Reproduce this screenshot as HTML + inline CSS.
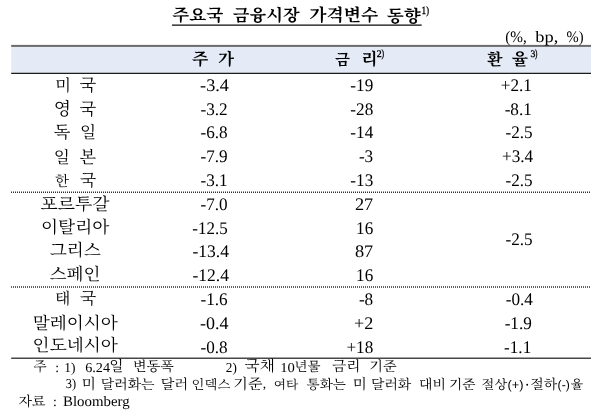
<!DOCTYPE html>
<html lang="ko">
<head>
<meta charset="utf-8">
<title>주요국 금융시장 가격변수 동향</title>
<style>
html,body{margin:0;padding:0;background:#fff}
body{width:600px;height:417px;position:relative;overflow:hidden;font-family:"Liberation Serif",serif;color:#000}
svg{position:absolute;left:0;top:0;will-change:transform}
svg text{font-family:"Liberation Serif",serif;fill:#000;text-rendering:geometricPrecision}
svg text.k{font-family:"Liberation Serif","Noto Serif CJK SC","Noto Sans CJK KR","NanumGothic",serif}
svg text.kb{font-family:"Liberation Serif","Noto Serif CJK SC","Noto Sans CJK KR","NanumGothic",serif;font-weight:bold}
</style>
</head>
<body>
<svg width="600" height="417" viewBox="0 0 600 417">
<rect x="11.2" y="46" width="579.8" height="27" fill="#e4ebf6"/>
<rect x="11.2" y="44.9" width="579.8" height="2" fill="#6b6b6b"/>
<rect x="11.2" y="72.75" width="579.8" height="1.25" fill="#1c1c1c"/>
<rect x="172" y="24.4" width="249.7" height="1.5" fill="#333"/>
<line x1="11" y1="192.3" x2="591" y2="192.3" stroke="#2e2e2e" stroke-width="1.4" stroke-dasharray="1 1"/>
<line x1="11" y1="287" x2="591" y2="287" stroke="#2e2e2e" stroke-width="1.4" stroke-dasharray="1 1"/>
<rect x="11.2" y="357.55" width="579.8" height="1.35" fill="#333"/>
<g fill="#000">
<text class="kb" x="172.2" y="20.9" font-size="17" textLength="51" lengthAdjust="spacingAndGlyphs">주요국</text>
<text class="kb" x="232.8" y="21.4" font-size="16.7" textLength="66.9" lengthAdjust="spacingAndGlyphs">금융시장</text>
<text class="kb" x="309.3" y="21.2" font-size="17.2" textLength="69" lengthAdjust="spacingAndGlyphs">가격변수</text>
<text class="kb" x="386.8" y="21.6" font-size="17" textLength="34" lengthAdjust="spacingAndGlyphs">동향</text>
<text class="kb" x="192" y="64.6" font-size="17">주</text>
<text class="kb" x="218.1" y="64.7" font-size="16.6">가</text>
<text class="kb" x="334.9" y="64.9" font-size="15.5">금</text>
<text class="kb" x="361.2" y="64.8" font-size="16.8">리</text>
<text class="kb" x="486.9" y="64.8" font-size="16.1">환</text>
<text class="kb" x="511.7" y="65.3" font-size="16.9">율</text>
<text class="k" x="55.2" y="90.9" font-size="16.3">미</text>
<text class="k" x="79.5" y="90.9" font-size="17.2">국</text>
<text class="k" x="53.8" y="114.9" font-size="17.9">영</text>
<text class="k" x="79.5" y="114.9" font-size="17.2">국</text>
<text class="k" x="53.8" y="138.3" font-size="17.1">독</text>
<text class="k" x="80.1" y="138.3" font-size="16.7">일</text>
<text class="k" x="53.8" y="162.5" font-size="16.7">일</text>
<text class="k" x="79.5" y="162.5" font-size="17.1">본</text>
<text class="k" x="54.9" y="185.6" font-size="14.5">한</text>
<text class="k" x="80" y="185.6" font-size="16.7">국</text>
<text class="k" x="40.6" y="209.6" font-size="17.2" textLength="68.8" lengthAdjust="spacingAndGlyphs">포르투갈</text>
<text class="k" x="41" y="233.3" font-size="17.1" textLength="68.3" lengthAdjust="spacingAndGlyphs">이탈리아</text>
<text class="k" x="49.7" y="256.3" font-size="17" textLength="51.1" lengthAdjust="spacingAndGlyphs">그리스</text>
<text class="k" x="49.6" y="280.2" font-size="17" textLength="51" lengthAdjust="spacingAndGlyphs">스페인</text>
<text class="k" x="55.1" y="304.2" font-size="15.9">태</text>
<text class="k" x="80" y="304.2" font-size="16.7">국</text>
<text class="k" x="32.8" y="328.5" font-size="17" textLength="85.1" lengthAdjust="spacingAndGlyphs">말레이시아</text>
<text class="k" x="32.6" y="351.3" font-size="17" textLength="85.2" lengthAdjust="spacingAndGlyphs">인도네시아</text>
<text class="k" x="33.5" y="371.3" font-size="13.6">주</text>
<text class="k" x="109.3" y="371.3" font-size="14.7">일</text>
<text class="k" x="133.1" y="371.3" font-size="13.6" textLength="40.7" lengthAdjust="spacingAndGlyphs">변동폭</text>
<text class="k" x="244.6" y="371.3" font-size="15.1" textLength="30.3" lengthAdjust="spacingAndGlyphs">국채</text>
<text class="k" x="294.4" y="371.3" font-size="13" textLength="26" lengthAdjust="spacingAndGlyphs">년물</text>
<text class="k" x="332" y="371.3" font-size="14.2" textLength="28.4" lengthAdjust="spacingAndGlyphs">금리</text>
<text class="k" x="369.2" y="371.3" font-size="13.7" textLength="27.4" lengthAdjust="spacingAndGlyphs">기준</text>
<text class="k" x="81.7" y="389" font-size="14.6">미</text>
<text class="k" x="100.7" y="389" font-size="13.5" textLength="53.9" lengthAdjust="spacingAndGlyphs">달러화는</text>
<text class="k" x="160.7" y="389" font-size="13.7" textLength="27.4" lengthAdjust="spacingAndGlyphs">달러</text>
<text class="k" x="191.6" y="389" font-size="12.9" textLength="38.7" lengthAdjust="spacingAndGlyphs">인덱스</text>
<text class="k" x="233.3" y="389" font-size="14.6" textLength="29.2" lengthAdjust="spacingAndGlyphs">기준</text>
<text class="k" x="273.8" y="389" font-size="12.2" textLength="24.5" lengthAdjust="spacingAndGlyphs">여타</text>
<text class="k" x="306.6" y="389" font-size="13.1" textLength="39.4" lengthAdjust="spacingAndGlyphs">통화는</text>
<text class="k" x="352.8" y="389" font-size="14.5">미</text>
<text class="k" x="371" y="389" font-size="13.4" textLength="40.3" lengthAdjust="spacingAndGlyphs">달러화</text>
<text class="k" x="419" y="389" font-size="13.4" textLength="26.9" lengthAdjust="spacingAndGlyphs">대비</text>
<text class="k" x="449.1" y="389" font-size="13.3" textLength="26.5" lengthAdjust="spacingAndGlyphs">기준</text>
<text class="k" x="481.6" y="389" font-size="12.8" textLength="25.6" lengthAdjust="spacingAndGlyphs">절상</text>
<text class="k" x="530.3" y="389" font-size="13.5" textLength="27" lengthAdjust="spacingAndGlyphs">절하</text>
<text class="k" x="570.7" y="389" font-size="12.8">율</text>
<text class="k" x="18.6" y="405.6" font-size="13.5" textLength="27" lengthAdjust="spacingAndGlyphs">자료</text>
</g>
<text x="421.6" y="14" font-size="11" textLength="4.6" lengthAdjust="spacingAndGlyphs" stroke="#000" stroke-width="0.35">1</text>
<text x="426.2" y="14" font-size="11" textLength="2.8" lengthAdjust="spacingAndGlyphs" stroke="#000" stroke-width="0.35">)</text>
<text x="505.2" y="41.5" font-size="16" textLength="21.6" lengthAdjust="spacingAndGlyphs">(%,</text>
<text x="535.3" y="41.5" font-size="16" textLength="23" lengthAdjust="spacingAndGlyphs">bp,</text>
<text x="566.5" y="41.5" font-size="16" textLength="17" lengthAdjust="spacingAndGlyphs">%)</text>
<text x="376.8" y="57.2" font-size="10" textLength="4.9" lengthAdjust="spacingAndGlyphs" stroke="#000" stroke-width="0.35">2</text>
<text x="381.5" y="57.2" font-size="11" textLength="2.6" lengthAdjust="spacingAndGlyphs" stroke="#000" stroke-width="0.35">)</text>
<text x="530.5" y="57.2" font-size="10" textLength="4.9" lengthAdjust="spacingAndGlyphs" stroke="#000" stroke-width="0.35">3</text>
<text x="535.1" y="57.2" font-size="11" textLength="2.4" lengthAdjust="spacingAndGlyphs" stroke="#000" stroke-width="0.35">)</text>
<text x="228.919" y="91" font-size="17.7" text-anchor="end" textLength="28.828" lengthAdjust="spacingAndGlyphs">-3.4</text>
<text x="227.619" y="115" font-size="17.7" text-anchor="end" textLength="27.179" lengthAdjust="spacingAndGlyphs">-3.2</text>
<text x="227.619" y="138" font-size="17.7" text-anchor="end" textLength="27.179" lengthAdjust="spacingAndGlyphs">-6.8</text>
<text x="227.619" y="162" font-size="17.7" text-anchor="end" textLength="27.179" lengthAdjust="spacingAndGlyphs">-7.9</text>
<text x="227.619" y="186" font-size="17.7" text-anchor="end" textLength="27.179" lengthAdjust="spacingAndGlyphs">-3.1</text>
<text x="227.619" y="210" font-size="17.7" text-anchor="end" textLength="27.179" lengthAdjust="spacingAndGlyphs">-7.0</text>
<text x="227.619" y="234" font-size="17.7" text-anchor="end" textLength="35.328" lengthAdjust="spacingAndGlyphs">-12.5</text>
<text x="228.919" y="257" font-size="17.7" text-anchor="end" textLength="36.528" lengthAdjust="spacingAndGlyphs">-13.4</text>
<text x="228.919" y="281" font-size="17.7" text-anchor="end" textLength="36.528" lengthAdjust="spacingAndGlyphs">-12.4</text>
<text x="227.619" y="305" font-size="17.7" text-anchor="end" textLength="27.179" lengthAdjust="spacingAndGlyphs">-1.6</text>
<text x="228.619" y="329" font-size="17.7" text-anchor="end" textLength="28.527" lengthAdjust="spacingAndGlyphs">-0.4</text>
<text x="227.619" y="353" font-size="17.7" text-anchor="end" textLength="27.179" lengthAdjust="spacingAndGlyphs">-0.8</text>
<text x="373.22" y="91" font-size="17.7" text-anchor="end" textLength="22.886" lengthAdjust="spacingAndGlyphs">-19</text>
<text x="373.22" y="115" font-size="17.7" text-anchor="end" textLength="22.886" lengthAdjust="spacingAndGlyphs">-28</text>
<text x="373.22" y="138" font-size="17.7" text-anchor="end" textLength="22.886" lengthAdjust="spacingAndGlyphs">-14</text>
<text x="373.22" y="162" font-size="17.7" text-anchor="end" textLength="14.302" lengthAdjust="spacingAndGlyphs">-3</text>
<text x="373.22" y="186" font-size="17.7" text-anchor="end" textLength="22.886" lengthAdjust="spacingAndGlyphs">-13</text>
<text x="373.22" y="210" font-size="17.7" text-anchor="end" textLength="18.328" lengthAdjust="spacingAndGlyphs">27</text>
<text x="373.22" y="234" font-size="17.7" text-anchor="end" textLength="17.169" lengthAdjust="spacingAndGlyphs">16</text>
<text x="373.22" y="257" font-size="17.7" text-anchor="end" textLength="18.328" lengthAdjust="spacingAndGlyphs">87</text>
<text x="373.22" y="281" font-size="17.7" text-anchor="end" textLength="17.169" lengthAdjust="spacingAndGlyphs">16</text>
<text x="373.22" y="305" font-size="17.7" text-anchor="end" textLength="14.302" lengthAdjust="spacingAndGlyphs">-8</text>
<text x="373.22" y="329" font-size="17.7" text-anchor="end" textLength="19.328" lengthAdjust="spacingAndGlyphs">+2</text>
<text x="373.22" y="353" font-size="17.7" text-anchor="end" textLength="26.828" lengthAdjust="spacingAndGlyphs">+18</text>
<text x="531.919" y="91" font-size="17.7" text-anchor="end" textLength="31.144" lengthAdjust="spacingAndGlyphs">+2.1</text>
<text x="531.82" y="115" font-size="17.7" text-anchor="end" textLength="27.179" lengthAdjust="spacingAndGlyphs">-8.1</text>
<text x="532.62" y="138" font-size="17.7" text-anchor="end" textLength="27.179" lengthAdjust="spacingAndGlyphs">-2.5</text>
<text x="533.22" y="162" font-size="17.7" text-anchor="end" textLength="31.144" lengthAdjust="spacingAndGlyphs">+3.4</text>
<text x="532.62" y="186" font-size="17.7" text-anchor="end" textLength="27.179" lengthAdjust="spacingAndGlyphs">-2.5</text>
<text x="532.919" y="305" font-size="17.7" text-anchor="end" textLength="27.179" lengthAdjust="spacingAndGlyphs">-0.4</text>
<text x="531.82" y="329" font-size="17.7" text-anchor="end" textLength="27.179" lengthAdjust="spacingAndGlyphs">-1.9</text>
<text x="531.22" y="353" font-size="17.7" text-anchor="end" textLength="27.179" lengthAdjust="spacingAndGlyphs">-1.1</text>
<text x="532.62" y="245" font-size="17.7" text-anchor="end" textLength="27.179" lengthAdjust="spacingAndGlyphs">-2.5</text>
<text x="55.3" y="371.5" font-size="13.6">:</text>
<text x="64.3" y="371.5" font-size="13.6" textLength="11.2" lengthAdjust="spacingAndGlyphs">1)</text>
<text x="85.2" y="371.5" font-size="13.6" textLength="24.8" lengthAdjust="spacingAndGlyphs">6.24</text>
<text x="225.8" y="371.5" font-size="13.6" textLength="11" lengthAdjust="spacingAndGlyphs">2)</text>
<text x="280.3" y="371.5" font-size="13.6" textLength="14.6" lengthAdjust="spacingAndGlyphs">10</text>
<text x="65.8" y="388.4" font-size="13.6" textLength="10.3" lengthAdjust="spacingAndGlyphs">3)</text>
<text x="262.8" y="388.4" font-size="13.6">,</text>
<text x="507.5" y="388.6" font-size="12.5" textLength="16" lengthAdjust="spacingAndGlyphs" style="font-family:'Liberation Sans',sans-serif">(+)</text>
<circle cx="527.2" cy="384.8" r="0.95" fill="#000"><title>·</title></circle>
<text x="557.6" y="388.6" font-size="12.5" textLength="12.2" lengthAdjust="spacingAndGlyphs" style="font-family:'Liberation Sans',sans-serif">(-)</text>
<text x="53" y="406" font-size="13.6">:</text>
<text x="63" y="406" font-size="14.5" textLength="66.6" lengthAdjust="spacingAndGlyphs">Bloomberg</text>
</svg>
</body>
</html>
